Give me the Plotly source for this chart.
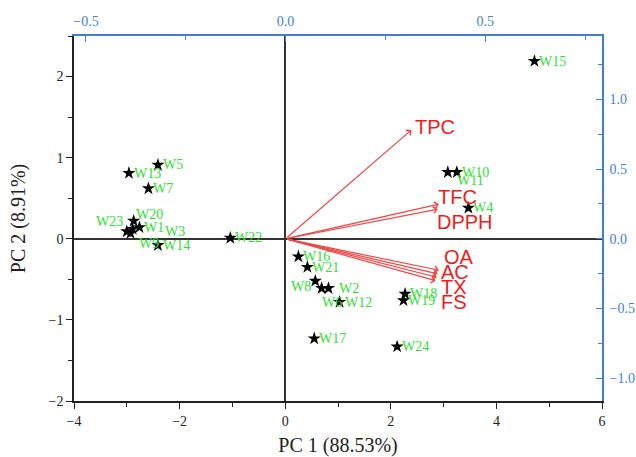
import plotly.graph_objects as go

# ---- data: PCA scores (PC1, PC2) ----
samples = ["W1", "W2", "W3", "W4", "W5", "W6", "W7", "W8", "W9", "W10", "W11", "W12",
           "W13", "W14", "W15", "W16", "W17", "W18", "W19", "W20", "W21", "W22", "W23", "W24"]
pc1 = [-2.76, 0.82, -2.89, 3.47, -2.41, 0.69, -2.59, 0.57, -2.93, 3.25, 3.08, 1.03,
       -2.96, -2.41, 4.72, 0.25, 0.55, 2.27, 2.24, -2.87, 0.42, -1.04, -3.00, 2.12]
pc2 = [0.14, -0.61, 0.12, 0.38, 0.91, -0.61, 0.62, -0.52, 0.07, 0.82, 0.82, -0.78,
       0.81, -0.08, 2.19, -0.22, -1.23, -0.68, -0.76, 0.22, -0.35, 0.01, 0.09, -1.33]

# ---- data: loadings (secondary axes) ----
variables = ["TPC", "TFC", "DPPH", "OA", "AC", "TX", "FS"]
load1 = [0.315, 0.384, 0.381, 0.384, 0.381, 0.379, 0.376]
load2 = [0.780, 0.248, 0.212, -0.225, -0.251, -0.276, -0.301]

# ---- tick labels ----
x_ticks = [-4, -2, 0, 2, 4, 6]
y_ticks = [-2, -1, 0, 1, 2]
x2_ticks = [-0.5, 0.0, 0.5]
y2_ticks = [-1.0, -0.5, 0.0, 0.5, 1.0]

# ---- styles (label placement in pixels, not data) ----
label_offsets = {  # name: (dx, dy, anchor)
    "W20": (0, 6, "left"), "W23": (-2, 10, "right"), "W3": (30, -2, "left"),
    "W9": (6, -10, "left"), "W8": (-2, -6, "right"), "W2": (8, 0, "left"),
    "W6": (-2, -14, "left"), "W11": (7, -8, "left"),
}
var_offsets = {
    "TPC": (2, 3), "TFC": (-3, 7), "DPPH": (-3, -13), "OA": (3, 13),
    "AC": (1, 1.5), "TX": (2, -10), "FS": (3, -21),
}

BLUE = "#3f7fd4"
GREEN = "#33dd33"
RED = "#f04545"
SERIF = "Liberation Serif"
SANS = "Liberation Sans"

fig = go.Figure()
fig.add_trace(go.Scatter(
    x=pc1, y=pc2, mode="markers", xaxis="x", yaxis="y",
    marker=dict(symbol="star", size=10, color="black", line=dict(width=0)),
    hoverinfo="skip", showlegend=False))
# invisible trace to activate the secondary axes
fig.add_trace(go.Scatter(x=[0], y=[0], xaxis="x2", yaxis="y2", mode="markers",
                         marker=dict(size=0.1, color="rgba(0,0,0,0)"),
                         hoverinfo="skip", showlegend=False))

annotations = []
for name, x, y in zip(samples, pc1, pc2):
    dx, dy, anc = label_offsets.get(name, (3, 0, "left"))
    annotations.append(dict(
        x=x, y=y, xref="x", yref="y", text=name, showarrow=False,
        xanchor=anc, yanchor="middle", xshift=dx, yshift=dy,
        font=dict(family=SERIF, size=14, color=GREEN)))

for name, lx, ly in zip(variables, load1, load2):
    annotations.append(dict(
        x=lx, y=ly, xref="x2", yref="y2", ax=0, ay=0, axref="x2", ayref="y2",
        text="", showarrow=True, arrowhead=4, arrowsize=1.1, arrowwidth=1.2,
        arrowcolor=RED, standoff=0))
    dx, dy = var_offsets[name]
    annotations.append(dict(
        x=lx, y=ly, xref="x2", yref="y2", text=name, showarrow=False,
        xanchor="left", yanchor="middle", xshift=dx, yshift=dy,
        font=dict(family=SANS, size=20, color="#ee1c1c")))

fig.update_layout(
    width=636, height=457,
    margin=dict(l=74, r=34, t=36, b=56),
    paper_bgcolor="white", plot_bgcolor="white",
    showlegend=False,
    annotations=annotations,
    xaxis=dict(
        range=[-4, 6], tickvals=x_ticks, ticks="outside", ticklen=6, tickwidth=1.2,
        tickcolor="#222", showline=True, linecolor="#222", linewidth=1.5,
        showgrid=False, zeroline=True, zerolinecolor="#333", zerolinewidth=1.5,
        automargin=False,
        minor=dict(dtick=1, ticks="outside", ticklen=4, tickcolor="#222", showgrid=False),
        tickfont=dict(family=SERIF, size=14, color="#222"),
        title=dict(text="PC 1 (88.53%)", font=dict(family=SERIF, size=20, color="#222"),
                   standoff=17)),
    yaxis=dict(
        range=[-2, 2.5], tickvals=y_ticks, ticks="outside", ticklen=6, tickwidth=1.2,
        tickcolor="#222", showline=True, linecolor="#222", linewidth=1.5,
        showgrid=False, zeroline=True, zerolinecolor="#333", zerolinewidth=1.5,
        automargin=False,
        minor=dict(dtick=0.5, ticks="outside", ticklen=4, tickcolor="#222", showgrid=False),
        tickfont=dict(family=SERIF, size=14, color="#222"),
        title=dict(text="PC 2 (8.91%)", font=dict(family=SERIF, size=20, color="#222"),
                   standoff=18)),
    xaxis2=dict(
        overlaying="x", side="top", range=[-0.53, 0.7925], tickvals=x2_ticks,
        tickformat=".1f", ticks="inside", ticklen=6, tickwidth=1.2, tickcolor=BLUE,
        showline=True, linecolor=BLUE, linewidth=1.5, showgrid=False, zeroline=False,
        automargin=False, ticklabelstandoff=3,
        minor=dict(dtick=0.25, ticks="inside", ticklen=4, tickcolor=BLUE, showgrid=False),
        tickfont=dict(family=SERIF, size=14, color=BLUE)),
    yaxis2=dict(
        overlaying="y", side="right", range=[-1.1636, 1.4545], tickvals=y2_ticks,
        tickformat=".1f", ticks="inside", ticklen=6, tickwidth=1.2, tickcolor=BLUE,
        showline=True, linecolor=BLUE, linewidth=1.5, showgrid=False, zeroline=False,
        automargin=False, ticklabelstandoff=3,
        minor=dict(dtick=0.25, ticks="inside", ticklen=4, tickcolor=BLUE, showgrid=False),
        tickfont=dict(family=SERIF, size=14, color=BLUE)),
)

# remove the page's default body margin so the figure fills the window exactly
fig.write_html("out.html",
               config={"displayModeBar": False},
               post_script="document.body.style.margin='0';"
                           "document.body.style.overflow='hidden';")
